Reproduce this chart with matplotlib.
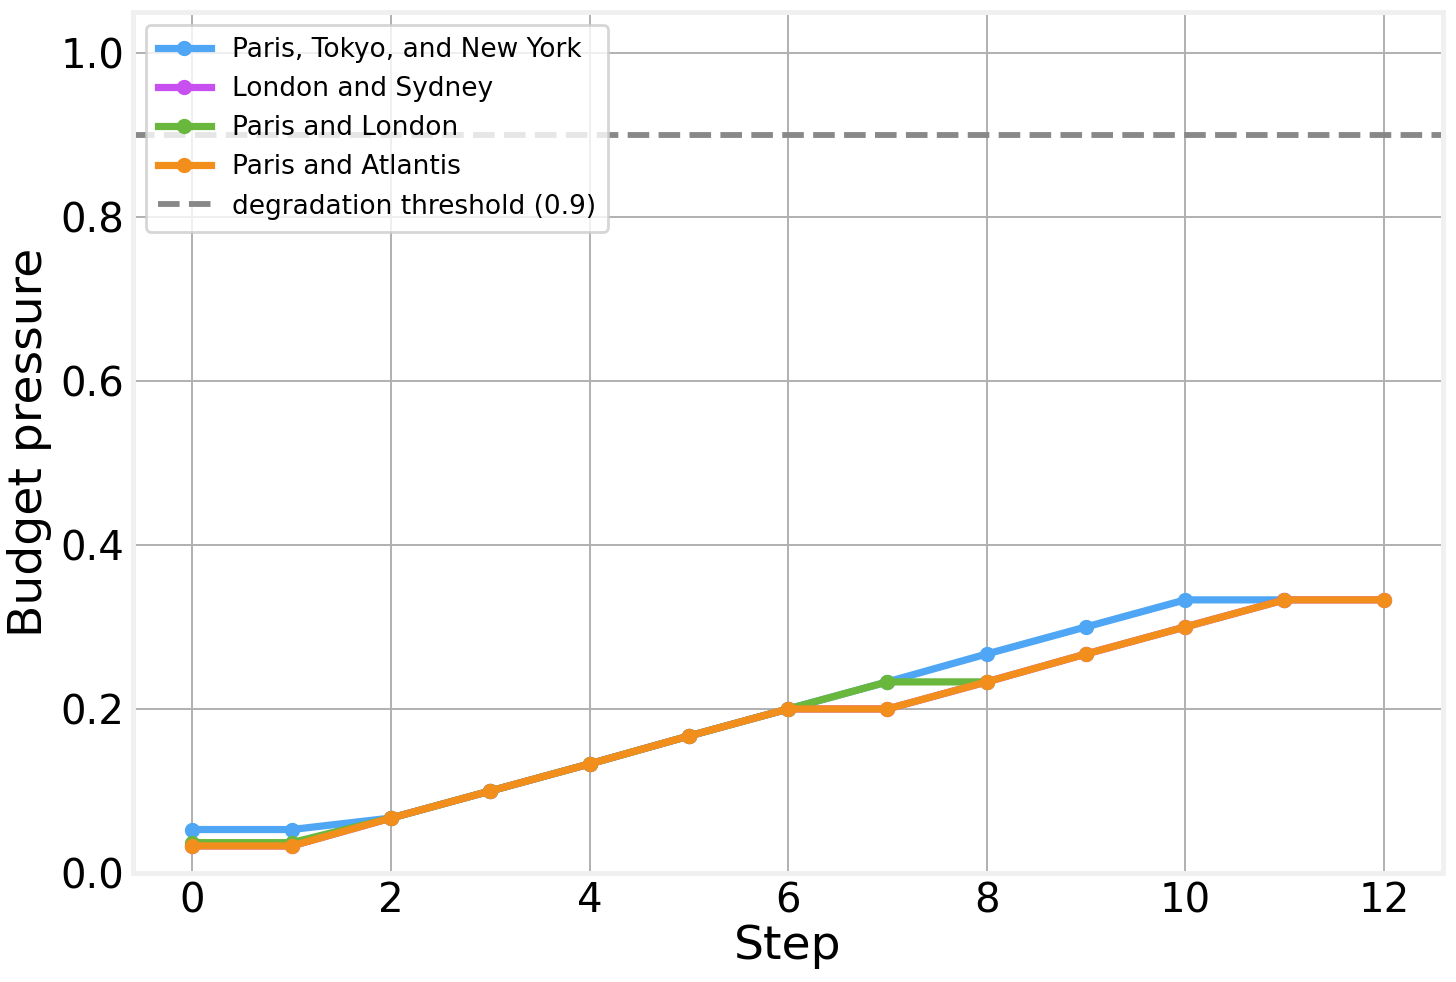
import numpy as np
import matplotlib.pyplot as plt

# budget pressure per step for each query
steps_blue = [0, 1, 2, 3, 4, 5, 6, 7, 8, 9, 10, 11]
pressure_blue = [0.053, 0.053, 0.067, 0.1, 0.133, 0.167, 0.2, 0.233, 0.267, 0.3, 0.333, 0.333]

steps_magenta = [0, 1, 2, 3, 4, 5, 6, 7, 8, 9, 10, 11, 12]
pressure_magenta = [0.033, 0.033, 0.067, 0.1, 0.133, 0.167, 0.2, 0.2, 0.233, 0.267, 0.3, 0.333, 0.333]

steps_green = [0, 1, 2, 3, 4, 5, 6, 7, 8]
pressure_green = [0.037, 0.037, 0.067, 0.1, 0.133, 0.167, 0.2, 0.233, 0.233]

steps_orange = [0, 1, 2, 3, 4, 5, 6, 7, 8, 9, 10, 11, 12]
pressure_orange = [0.033, 0.033, 0.067, 0.1, 0.133, 0.167, 0.2, 0.2, 0.233, 0.267, 0.3, 0.333, 0.333]

labels = ['Paris, Tokyo, and New York', 'London and Sydney',
          'Paris and London', 'Paris and Atlantis']
colors = ['#4ea6f4', '#c850f0', '#6ab73e', '#f28e1c']
threshold = 0.9

fig = plt.figure(figsize=(7.28, 4.91), dpi=200)
ax = fig.add_axes([0.0913, 0.111, 0.9, 0.877])

series = [(steps_blue, pressure_blue), (steps_magenta, pressure_magenta),
          (steps_green, pressure_green), (steps_orange, pressure_orange)]
for (s, p), lab, c in zip(series, labels, colors):
    ax.plot(s, p, color=c, lw=2.6, marker='o', ms=4.5, label=lab)

ax.axhline(threshold, color='#888888', ls='--', lw=2.1,
           label='degradation threshold (0.9)')

ax.set_xlim(-0.6, 12.6)
ax.set_ylim(0, 1.05)
ax.set_xticks(range(0, 13, 2))
ax.set_yticks(np.arange(0, 1.01, 0.2))
ax.tick_params(length=0, labelsize=14.5, pad=3)
ax.grid(True, color='#b0b0b0', lw=0.7)
ax.set_axisbelow(True)
for sp in ax.spines.values():
    sp.set_color('#f0f0f0')
    sp.set_linewidth(1.8)

ax.set_xlabel('Step', fontsize=17, labelpad=1)
ax.set_ylabel('Budget pressure', fontsize=17, labelpad=3)
ax.legend(loc='upper left', fontsize=9.5, handlelength=2.0,
          borderpad=0.45, labelspacing=0.5)

fig.savefig('out.png')
